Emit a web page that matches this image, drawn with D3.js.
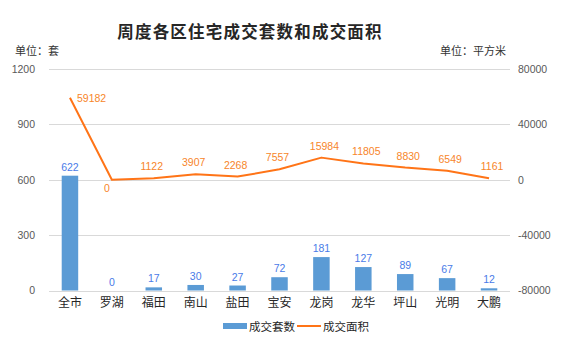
<!DOCTYPE html>
<html><head><meta charset="utf-8">
<script src="https://cdn.jsdelivr.net/npm/d3@7"></script>
<style>body{margin:0;background:#fff;}svg{display:block;}</style>
</head><body>
<script>
const categories = ["全市","罗湖","福田","南山","盐田","宝安","龙岗","龙华","坪山","光明","大鹏"];
const units = [622,0,17,30,27,72,181,127,89,67,12];
const areas = [59182,0,1122,3907,2268,7557,15984,11805,8830,6549,1161];
const leftTicks = [0,300,600,900,1200];
const rightTicks = [-80000,-40000,0,40000,80000];
const title = "周度各区住宅成交套数和成交面积";
const leftUnit = "单位：套";
const rightUnit = "单位：平方米";
const seriesNames = ["成交套数","成交面积"];

const W=566,H=341;
const svg=d3.select("body").append("svg").attr("width",W).attr("height",H);
const x0=49,x1=510,yTop=69,yBot=290.5;
const x=d3.scaleBand().domain(categories).range([x0,x1]).paddingInner(0).paddingOuter(0);
const yL=d3.scaleLinear().domain([0,1200]).range([yBot,yTop]);
const yR=d3.scaleLinear().domain([-80000,80000]).range([yBot,yTop]);
const BLUE="#5B9BD5", ORANGE="#FF7417", BLUE_T="#4A7BE8", ORANGE_T="#F7852A";
const sansCJK="'Noto Sans CJK SC','Noto Sans',sans-serif";
const tickFont="'Liberation Sans',Arial,sans-serif";
const fmt=d=>String(d);

// title
svg.append("text").attr("x",250).attr("y",38).attr("text-anchor","middle")
  .attr("font-family","'Noto Sans CJK SC',serif").attr("font-weight","bold")
  .attr("font-size",16.5).attr("letter-spacing",1.2).attr("fill","#262626").text(title);
svg.append("text").attr("x",15).attr("y",55).attr("font-family",sansCJK)
  .attr("font-size",11).attr("fill","#333").text(leftUnit);
svg.append("text").attr("x",506).attr("y",55).attr("text-anchor","end").attr("font-family",sansCJK)
  .attr("font-size",11).attr("fill","#333").text(rightUnit);

// gridlines
svg.append("g").selectAll("line").data(leftTicks).join("line")
  .attr("x1",x0).attr("x2",x1).attr("y1",d=>Math.round(yL(d))+0.5).attr("y2",d=>Math.round(yL(d))+0.5)
  .attr("stroke","#d9d9d9").attr("stroke-width",1);

// axes
const axL=svg.append("g").attr("transform",`translate(${x0},0)`)
  .call(d3.axisLeft(yL).tickValues(leftTicks).tickFormat(fmt).tickSize(0).tickPadding(14));
axL.select(".domain").remove();
axL.selectAll("text").attr("font-family",tickFont).attr("font-size",10.5).attr("fill","#595959");
const axR=svg.append("g").attr("transform",`translate(${x1},0)`)
  .call(d3.axisRight(yR).tickValues(rightTicks).tickFormat(fmt).tickSize(0).tickPadding(8));
axR.select(".domain").remove();
axR.selectAll("text").attr("font-family",tickFont).attr("font-size",10.5).attr("fill","#595959");
const axB=svg.append("g").attr("transform",`translate(0,${yBot})`)
  .call(d3.axisBottom(x).tickSize(0).tickPadding(8));
axB.select(".domain").remove();
axB.selectAll("text").attr("font-family",sansCJK).attr("font-size",12).attr("fill","#262626");

// bars
const bw=16.5;
svg.append("g").selectAll("rect").data(units).join("rect")
  .attr("x",(d,i)=>x(categories[i])+x.bandwidth()/2-bw/2).attr("width",bw)
  .attr("y",d=>yL(d)).attr("height",d=>yBot-yL(d)).attr("fill",BLUE);
svg.append("g").selectAll("text").data(units).join("text")
  .attr("x",(d,i)=>x(categories[i])+x.bandwidth()/2).attr("y",d=>yL(d)-5)
  .attr("text-anchor","middle").attr("font-family",tickFont).attr("font-size",10.5)
  .attr("fill",BLUE_T).text(d=>d);

// line
const line=d3.line().x((d,i)=>x(categories[i])+x.bandwidth()/2).y(d=>yR(d));
svg.append("path").datum(areas).attr("d",line).attr("fill","none")
  .attr("stroke",ORANGE).attr("stroke-width",2).attr("stroke-linejoin","round");
svg.append("g").selectAll("text").data(areas).join("text")
  .attr("x",(d,i)=>{const cx=x(categories[i])+x.bandwidth()/2; return i===0?cx+7:(i===1?cx-5:cx+(i>=6?3:-2));})
  .attr("y",(d,i)=>{const cy=yR(d); return i===0?cy+4:(i===1?cy+12:cy-8);})
  .attr("text-anchor",(d,i)=>i===0?"start":"middle")
  .attr("font-family",tickFont).attr("font-size",10.5).attr("fill",ORANGE_T).text(d=>d);

// legend
const lg=svg.append("g");
lg.append("rect").attr("x",223).attr("y",323).attr("width",24).attr("height",6).attr("fill",BLUE);
lg.append("text").attr("x",249).attr("y",331).attr("font-family",sansCJK).attr("font-size",11.5)
  .attr("fill","#262626").text(seriesNames[0]);
lg.append("line").attr("x1",297).attr("x2",321).attr("y1",326).attr("y2",326)
  .attr("stroke",ORANGE).attr("stroke-width",2);
lg.append("text").attr("x",323).attr("y",331).attr("font-family",sansCJK).attr("font-size",11.5)
  .attr("fill","#262626").text(seriesNames[1]);
</script>
</body></html>
